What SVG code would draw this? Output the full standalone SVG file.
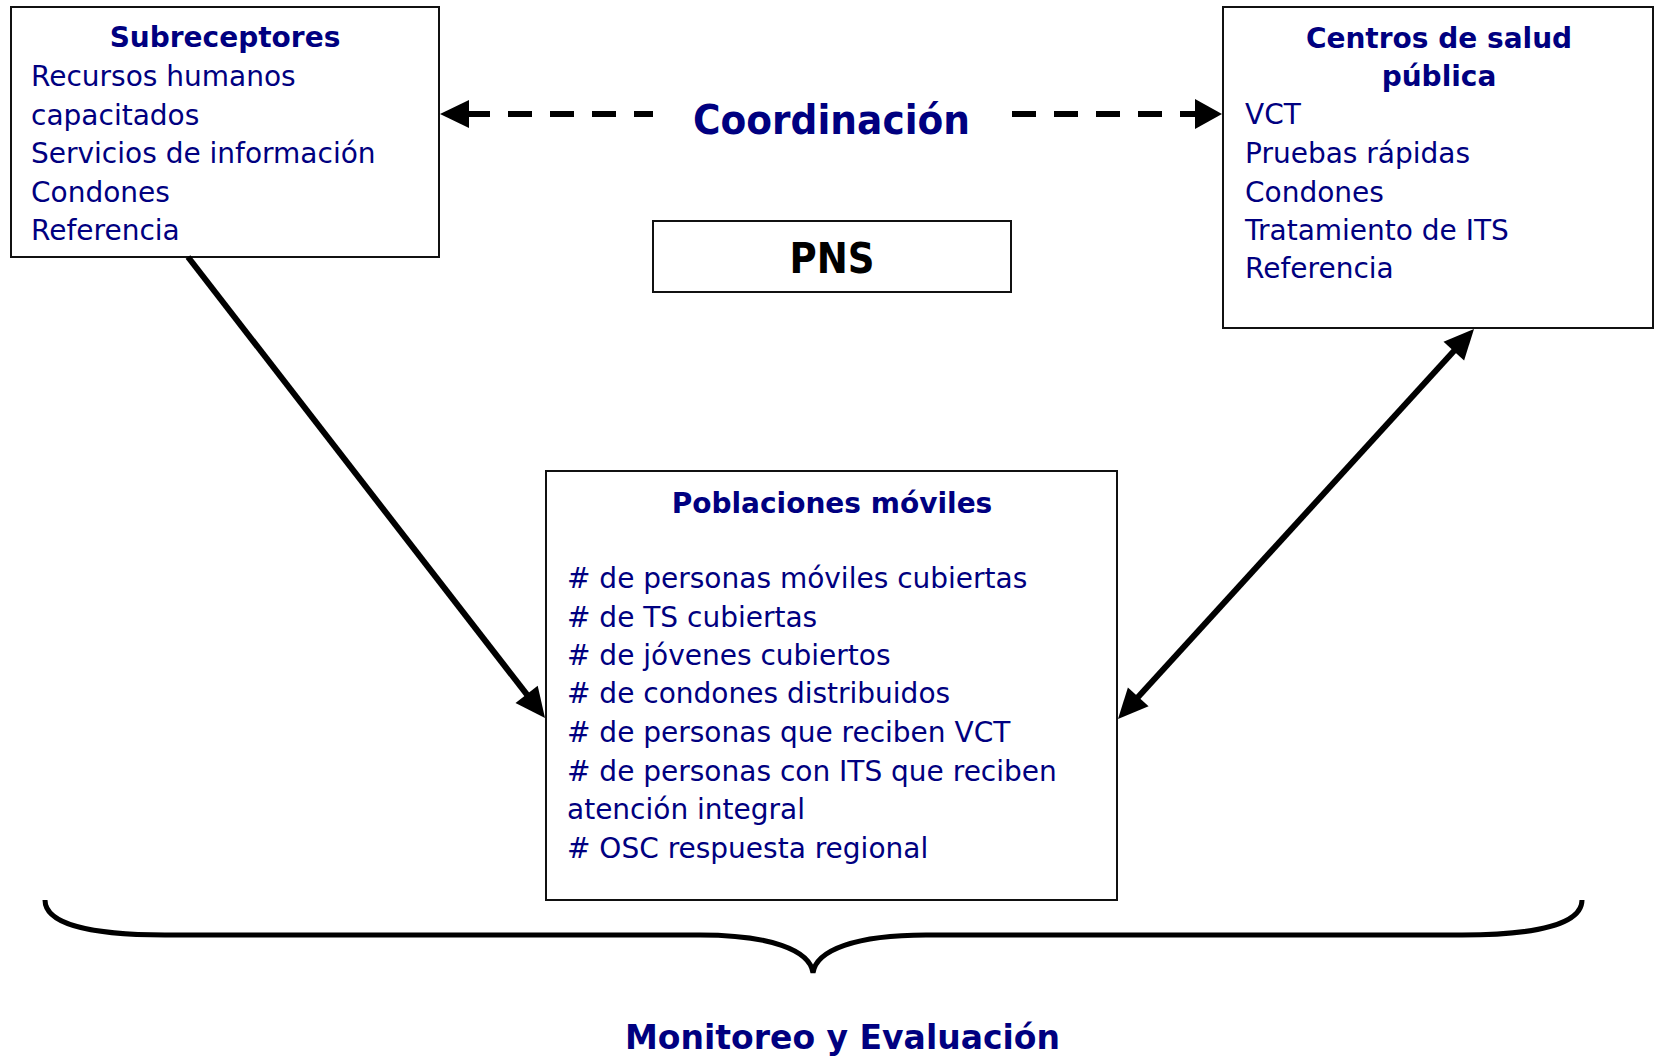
<svg xmlns="http://www.w3.org/2000/svg" width="1656" height="1058" viewBox="0 0 1656 1058">
<style>
.box{fill:#fff;stroke:#111;stroke-width:2}
.t{font-family:"DejaVu Sans",Verdana,sans-serif;font-size:28px;fill:#000080}
.b{font-weight:bold}
.c{text-anchor:middle}
.ln{stroke:#000;stroke-width:6;fill:none}
.hd{fill:#000}
</style>
<rect width="1656" height="1058" fill="#fff"/>
<g id="subreceptores">
<rect class="box" x="11" y="7" width="428" height="250"/>
<text class="t b c" x="225" y="47">Subreceptores</text>
<text class="t" x="31" y="86">Recursos humanos</text>
<text class="t" x="31" y="125">capacitados</text>
<text class="t" x="31" y="163">Servicios de información</text>
<text class="t" x="31" y="202">Condones</text>
<text class="t" x="31" y="240">Referencia</text>
</g>
<g id="centros">
<rect class="box" x="1223" y="7" width="430" height="321"/>
<text class="t b c" x="1439" y="48">Centros de salud</text>
<text class="t b c" x="1439" y="86">pública</text>
<text class="t" x="1245" y="124">VCT</text>
<text class="t" x="1245" y="163">Pruebas rápidas</text>
<text class="t" x="1245" y="202">Condones</text>
<text class="t" x="1245" y="240">Tratamiento de ITS</text>
<text class="t" x="1245" y="278">Referencia</text>
</g>
<g id="pns">
<rect class="box" x="653" y="221" width="358" height="71"/>
<text class="t b c" x="832" y="273" style="font-size:42px;fill:#000" textLength="85" lengthAdjust="spacingAndGlyphs">PNS</text>
</g>
<g id="poblaciones">
<rect class="box" x="546" y="471" width="571" height="429"/>
<text class="t b c" x="832" y="513">Poblaciones móviles</text>
<text class="t" x="567" y="588"># de personas móviles cubiertas</text>
<text class="t" x="567" y="627"># de TS cubiertas</text>
<text class="t" x="567" y="665"># de jóvenes cubiertos</text>
<text class="t" x="567" y="703"># de condones distribuidos</text>
<text class="t" x="567" y="742"># de personas que reciben VCT</text>
<text class="t" x="567" y="781"># de personas con ITS que reciben</text>
<text class="t" x="567" y="819">atención integral</text>
<text class="t" x="567" y="858"># OSC respuesta regional</text>
</g>
<g id="coordinacion">
<text class="t b" x="693" y="134" style="font-size:41px" textLength="277" lengthAdjust="spacingAndGlyphs">Coordinación</text>
</g>
<g id="monitoreo">
<text class="t b" x="625" y="1049" style="font-size:34px" textLength="435" lengthAdjust="spacingAndGlyphs">Monitoreo y Evaluación</text>
</g>
<g id="connectors">
<path class="ln" d="M465,114H490M508,114H532M550,114H574M592,114H616M634,114H653"/>
<polygon class="hd" points="440,114 469,100 469,128"/>
<path class="ln" d="M1012,114H1036M1054,114H1078M1096,114H1120M1138,114H1162M1180,114H1198"/>
<polygon class="hd" points="1222,114 1195,99 1195,129"/>
<line class="ln" x1="188" y1="257" x2="532.8" y2="702.2"/>
<polygon class="hd" points="545,718 515.5,702.9 537.7,685.7"/>
<line class="ln" x1="1131.5" y1="704.2" x2="1460.5" y2="343.8"/>
<polygon class="hd" points="1474,329 1464.1,360.6 1443.5,341.7"/>
<polygon class="hd" points="1118,719 1148.6,706.3 1127.9,687.4"/>
<path d="M45,900 C45,924 90,935 165,935 L700,935 C770,935 810,950 813,973 C816,950 856,935 926,935 L1462,935 C1537,935 1582,924 1582,900" fill="none" stroke="#000" stroke-width="5"/>
</g>
</svg>
